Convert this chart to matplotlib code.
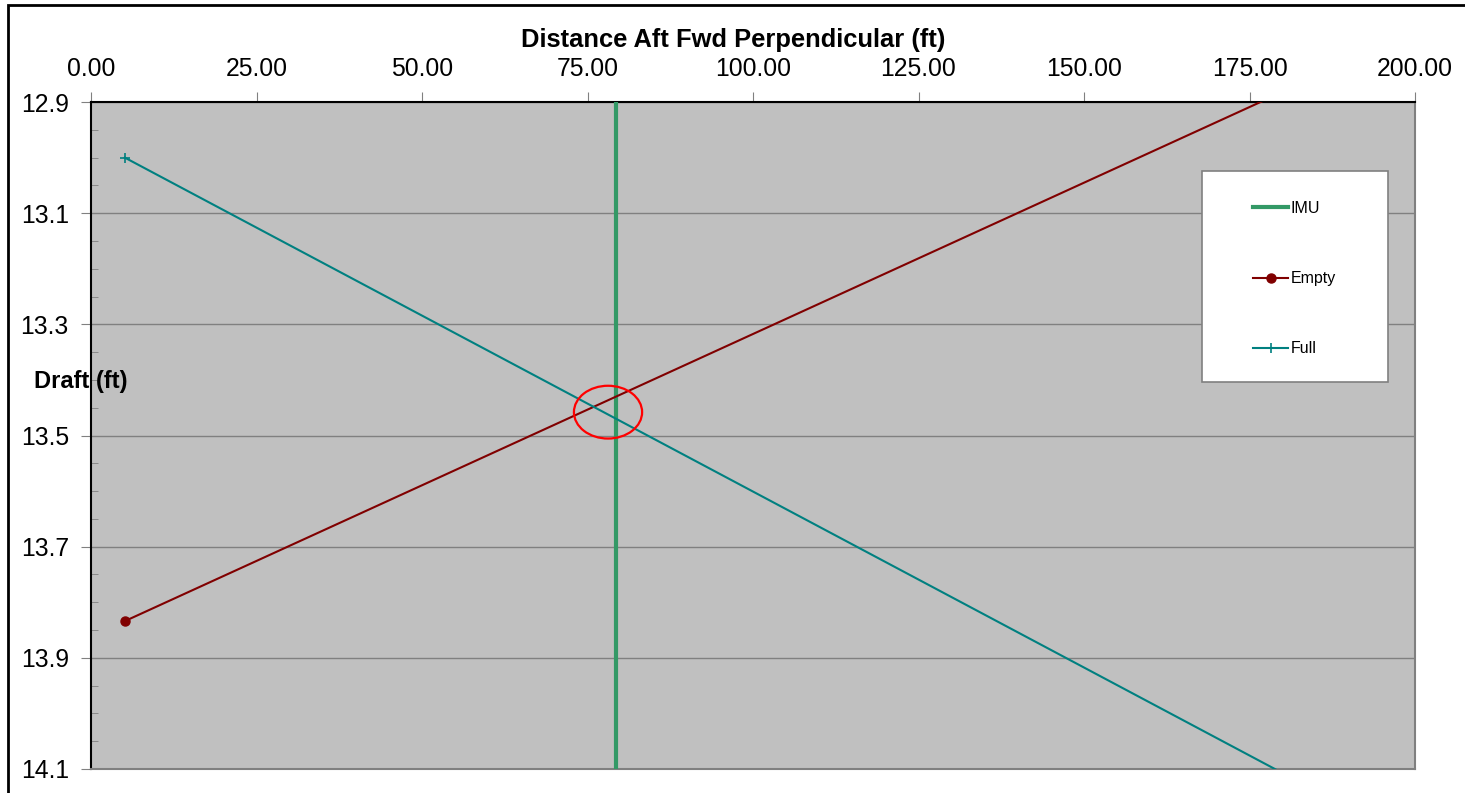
import matplotlib
matplotlib.use('Agg')
from matplotlib import pyplot as plt
from matplotlib.patches import Ellipse, Rectangle
from matplotlib.ticker import MultipleLocator, FormatStrFormatter
import numpy as np

plt.rcParams['font.family'] = ['Liberation Sans', 'DejaVu Sans']

# data (second points lie outside the plotted range)
imu_x = [79.3, 79.3]
imu_y = [12.9, 14.1]
empty_x = [5.1, 200.0]
empty_y = [13.834, 12.773]
full_x = [5.1, 200.0]
full_y = [13.0, 14.234]

x_ticks = [0, 25, 50, 75, 100, 125, 150, 175, 200]
y_ticks = [12.9, 13.1, 13.3, 13.5, 13.7, 13.9, 14.1]

# red circle drawn around the crossing point
mark_center = (78.1, 13.458)
mark_w, mark_h = 10.3, 0.095

fig = plt.figure(figsize=(14.65, 7.93), dpi=100)
ax = fig.add_axes([91/1465, 1 - 769/793, (1415 - 91)/1465, (769 - 102)/793])
ax.set_facecolor('#C0C0C0')

ax.plot(imu_x, imu_y, color='#339966', lw=3, label='IMU', zorder=3)
ax.plot(empty_x, empty_y, color='#800000', lw=1.5, marker='o', ms=6.5, label='Empty', zorder=3)
ax.plot(full_x, full_y, color='#008080', lw=1.5, marker='+', ms=7, mew=1.2, label='Full', zorder=3)

ax.add_patch(Ellipse(mark_center, mark_w, mark_h, fill=False, ec='#FF0000', lw=1.6, zorder=4))

ax.set_xlim(0, 200)
ax.set_ylim(14.1, 12.9)
ax.set_xticks(x_ticks)
ax.set_yticks(y_ticks)
ax.yaxis.set_minor_locator(MultipleLocator(0.05))
ax.xaxis.set_major_formatter(FormatStrFormatter('%.2f'))
ax.yaxis.set_major_formatter(FormatStrFormatter('%.1f'))

ax.xaxis.tick_top()
ax.tick_params(axis='x', which='major', direction='out', length=7, color='#808080',
               labelsize=17.8, pad=8)
ax.tick_params(axis='y', which='major', direction='out', length=7, color='#808080',
               labelsize=17.8, pad=9)
ax.tick_params(axis='y', which='minor', direction='in', length=5, color='#808080')
ax.tick_params(axis='x', which='minor', length=0)

ax.grid(axis='y', which='major', color='#808080', lw=1)
ax.set_axisbelow(True)

for s in ['left', 'top']:
    ax.spines[s].set_color('black')
    ax.spines[s].set_linewidth(1.5)
for s in ['right', 'bottom']:
    ax.spines[s].set_color('#808080')
    ax.spines[s].set_linewidth(1.5)

ax.xaxis.set_label_position('top')
ax.set_xlabel('Distance Aft Fwd Perpendicular (ft)', fontsize=18.4, fontweight='bold')
ax.xaxis.set_label_coords((733 - 91)/1324, (769 - 40)/667)
ax.xaxis.label.set_va('center')

ax.set_ylabel('Draft (ft)', fontsize=17, fontweight='bold', rotation=0)
ax.yaxis.set_label_coords((81 - 91)/1324, (769 - 381)/667)
ax.yaxis.label.set_va('center')
ax.yaxis.label.set_ha('center')

# legend box
ax.add_patch(Rectangle(((1202 - 91)/1324, (769 - 382)/667), (1388 - 1202)/1324, (382 - 171)/667,
                       transform=ax.transAxes, facecolor='white', edgecolor='#808080',
                       lw=1.2, zorder=5))
leg = ax.legend(loc='upper left', bbox_to_anchor=((1253 - 91)/1324, (769 - 201)/667),
                frameon=False, fontsize=11.5, labelspacing=3.45, handlelength=2.2,
                handletextpad=0.15, borderpad=0, borderaxespad=0)
leg.set_zorder(6)

# outer chart border (left and top edges visible)
fig.add_artist(Rectangle((8/1465, -0.2), 2.0, 1.2 - 5/793, transform=fig.transFigure,
                         fill=False, ec='black', lw=2))

fig.savefig('out.png', dpi=100)
